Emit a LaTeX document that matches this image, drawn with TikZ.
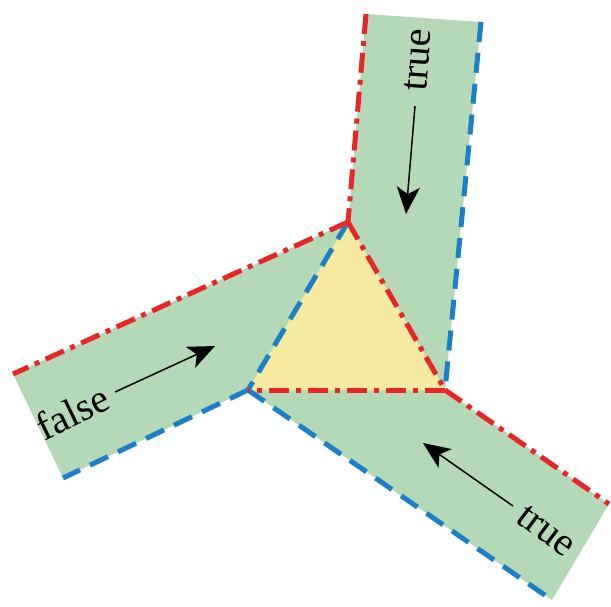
\documentclass[tikz,border=0pt]{standalone}
\usepackage{fontspec}
\setmainfont{Liberation Serif}
\usetikzlibrary{arrows.meta}
\definecolor{armgreen}{RGB}{181,216,182}
\definecolor{triyellow}{RGB}{246,234,160}
\definecolor{edgered}{RGB}{232,38,40}
\definecolor{edgeblue}{RGB}{28,128,200}
\tikzset{
  redline/.style={draw=edgered,line width=5pt,dash pattern=on 20pt off 7pt on 5pt off 7pt},
  blueline/.style={draw=edgeblue,line width=5pt,dash pattern=on 20pt off 11pt},
  flow/.style={line width=1.5pt,-{Stealth[length=27pt,width=23pt,inset=7pt]}},
  lbl/.style={font=\fontsize{40}{44}\selectfont,inner sep=0pt}
}
\begin{document}
\begin{tikzpicture}[x=1pt,y=-1pt]
\useasboundingbox (0,0) rectangle (611,606);
% vertices
\coordinate (T) at (348,222);
\coordinate (L) at (248,390);
\coordinate (R) at (445,390);
\coordinate (TA1) at (366,14);
\coordinate (TA2) at (481,22);
\coordinate (LA1) at (13,374);
\coordinate (LA2) at (63,478);
\coordinate (RA1) at (609,504);
\coordinate (RA2) at (552,600);
% fills
\fill[armgreen] (TA1) -- (TA2) -- (R) -- (RA1) -- (RA2) -- (L) -- (LA2) -- (LA1) -- (T) -- cycle;
\fill[triyellow] (T) -- (R) -- (L) -- cycle;
% blue edges
\draw[blueline] (TA2) -- (R);
\draw[blueline] (T) -- (L);
\draw[blueline] (L) -- (LA2);
\draw[blueline] (L) -- (RA2);
% red edges
\draw[redline] (TA1) -- (T);
\draw[redline] (T) -- (LA1);
\draw[redline] (T) -- (R);
\draw[redline] (R) -- (L);
\draw[redline] (R) -- (RA1);
% arrows
\coordinate (a1s) at (415,106);
\coordinate (a1e) at (406,214);
\coordinate (a2s) at (115,392);
\coordinate (a2e) at (215,346);
\coordinate (a3s) at (513,506);
\coordinate (a3e) at (423,443);
\draw[flow] (a1s) -- (a1e);
\draw[flow] (a2s) -- (a2e);
\draw[flow] (a3s) -- (a3e);
% labels
\node[lbl,rotate=86] (t1) at (418,60) {true};
\node[lbl,rotate=26] (f1) at (72,412) {false};
\node[lbl,rotate=-37] (t2) at (546,531) {true};
\end{tikzpicture}
\end{document}
